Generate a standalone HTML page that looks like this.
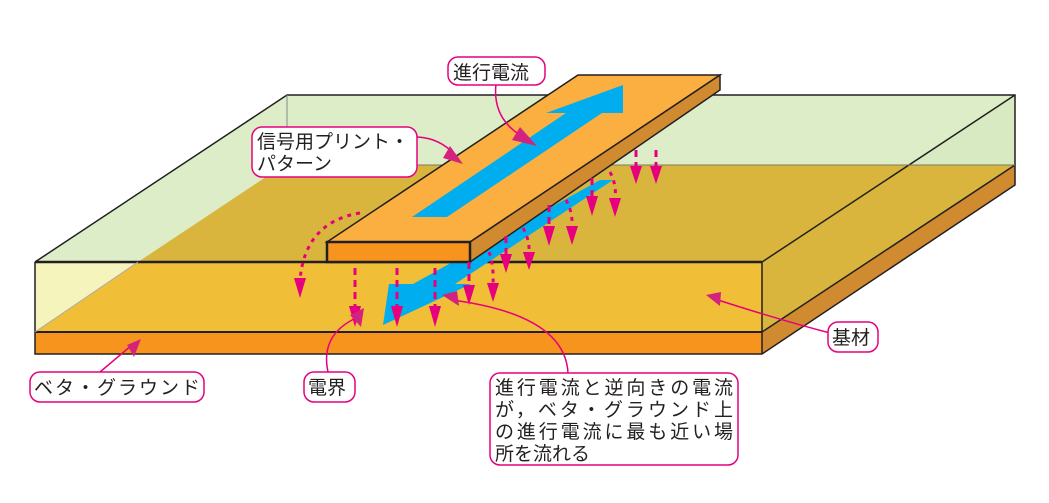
<!DOCTYPE html>
<html><head><meta charset="utf-8"><style>
html,body{margin:0;padding:0;background:#fff;}
svg{display:block;}
text{font-family:"Liberation Sans","Noto Sans CJK JP",sans-serif;font-size:19px;fill:#231f20;}
</style></head><body>
<svg width="1049" height="503" viewBox="0 0 1049 503" xmlns="http://www.w3.org/2000/svg">
<defs>
<marker id="ah" viewBox="0 0 10 10" refX="9" refY="5" markerWidth="5" markerHeight="5" orient="auto" markerUnits="userSpaceOnUse">
</marker>
<g id="pa"><polygon points="-6,0 6,0 0,20" fill="#e6007e"/></g>
</defs>
<!-- green air box -->
<polygon points="287,95 1015,95 762,262 35,262" fill="#dcedc8"/>
<polygon points="35,262 762,262 762,332 35,332" fill="#f4f4bc"/>
<polygon points="762,262 1015,95 1015,165 762,332" fill="#d7eac2"/>
<!-- substrate -->
<polygon points="284,165 1015,165 868,262 138,262" fill="#d9b53e"/>
<polygon points="868,262 1015,165 762,332 762,262" fill="#d9b53e"/>
<polygon points="138,262 762,262 762,332 35,332" fill="#f0be37"/>
<!-- ground -->
<polygon points="35,332 762,332 762,354 35,354" fill="#f7941d"/>
<polygon points="762,332 1015,165 1015,185 762,354" fill="#d08a30"/>
<!-- lines -->
<g stroke="#231f20" stroke-width="1.5" fill="none">
<polyline points="35,262 287,95 1015,95 1015,185 762,354 35,354 35,262"/>
<line x1="762" y1="262" x2="1015" y2="95"/>
<line x1="762" y1="262" x2="762" y2="354"/>
<line x1="35" y1="262" x2="762" y2="262" stroke-width="2.5"/>
<line x1="35" y1="332" x2="762" y2="332" stroke-width="2"/>
<line x1="762" y1="332" x2="1015" y2="165"/>
<line x1="284" y1="165" x2="1015" y2="165" stroke="#7a7a5a" stroke-width="1"/>
<line x1="287" y1="95" x2="287" y2="165" stroke="#888" stroke-width="1"/>
<line x1="35" y1="332" x2="138" y2="262" stroke="#aaa" stroke-width="1"/>
</g>
<!-- bottom blue arrow -->
<polygon points="383,325 389,284 413,284 600,180 613,180 455,284 471,284" fill="#00aeef"/>
<!-- trace -->
<polygon points="327,242 470,242 720,75 578,75" fill="#fbaf40" stroke="#231f20" stroke-width="1.5"/>
<polygon points="470,242 720,75 720,90 470,262" fill="#d08a30" stroke="#231f20" stroke-width="1.5"/>
<rect x="327" y="242" width="143" height="20" fill="#f7941d" stroke="#231f20" stroke-width="2.5"/>
<polygon points="412,217 566,113 546,113 623,85 623,113 602,113 447,217" fill="#00aeef"/>
<!-- field arrows -->
<g stroke="#e6007e" stroke-width="3" stroke-dasharray="7,5" fill="none">
<line x1="355" y1="268" x2="355" y2="308"/>
<line x1="397" y1="268" x2="397" y2="308"/>
<line x1="435" y1="268" x2="435" y2="308"/>
<line x1="469" y1="262" x2="469" y2="288"/>
<line x1="506" y1="236" x2="506" y2="256"/>
<line x1="549" y1="205" x2="549" y2="228"/>
<line x1="592" y1="178" x2="592" y2="198"/>
<line x1="636" y1="150" x2="636" y2="168"/>
<line x1="656" y1="150" x2="656" y2="168"/>
</g>
<g stroke="#e6007e" stroke-width="3" stroke-dasharray="4,5" fill="none">
<path d="M489,252 Q494,265 493,285"/>
<path d="M523,228 Q530,240 529,254"/>
<path d="M566,200 Q573,212 572,228"/>
<path d="M610,172 Q617,185 615,200"/>
<path d="M360,213 Q305,222 300,280"/>
</g>
<g fill="#e6007e">
<polygon points="349,306 361,306 355,327"/>
<polygon points="391,306 403,306 397,327"/>
<polygon points="429,306 441,306 435,327"/>
<polygon points="463,285 475,285 469,305"/>
<polygon points="500,254 512,254 506,273"/>
<polygon points="543,226 555,226 549,246"/>
<polygon points="586,196 598,196 592,216"/>
<polygon points="630,166 642,166 636,184"/>
<polygon points="650,166 662,166 656,184"/>
<polygon points="487,283 499,283 493,302"/>
<polygon points="523,252 535,252 529,270"/>
<polygon points="566,226 578,226 572,245"/>
<polygon points="609,198 621,198 615,217"/>
<polygon points="294,278 306,278 300,298"/>
</g>
<!-- leader lines -->
<g stroke="#e6007e" stroke-width="1.5" fill="none">
<path d="M496,84 Q492,120 525,138"/>
<path d="M417,137 Q440,138 455,155"/>
<path d="M100,372 L132,345"/>
<path d="M328,372 Q320,335 356,318"/>
<path d="M568,373 Q565,315 452,300"/>
<path d="M830,333 Q780,320 718,300"/>
</g>
<g fill="#d4237e">
<polygon points="520,127 537,146 512,140"/>
<polygon points="450,146 463,164 443,158"/>
<polygon points="127,345 141,339 134,357"/>
<polygon points="350,315 364,308 361,327"/>
<polygon points="457,291 442,295 459,306"/>
<polygon points="721,292 706,295 720,306"/>
</g>
<!-- labels -->
<g fill="#fff" stroke="#e6007e" stroke-width="1.5">
<rect x="448" y="57" width="97" height="28" rx="10"/>
<rect x="252" y="127" width="165" height="50" rx="10"/>
<rect x="30" y="372" width="174" height="30" rx="10"/>
<rect x="304" y="372" width="51" height="30" rx="10"/>
<rect x="490" y="373" width="248" height="92" rx="10"/>
<rect x="828" y="322" width="50" height="30" rx="10"/>
</g>
<text x="453" y="79">進行電流</text>
<text x="257" y="148">信号用プリント・</text>
<text x="257" y="170">パターン</text>
<text x="34" y="394" textLength="166">ベタ・グラウンド</text>
<text x="308" y="394">電界</text>
<text x="832" y="344">基材</text>
<text x="495" y="394" textLength="238">進行電流と逆向きの電流</text>
<text x="495" y="416" textLength="238">が，ベタ・グラウンド上</text>
<text x="495" y="438" textLength="238">の進行電流に最も近い場</text>
<text x="495" y="460">所を流れる</text>
</svg>
</body></html>
